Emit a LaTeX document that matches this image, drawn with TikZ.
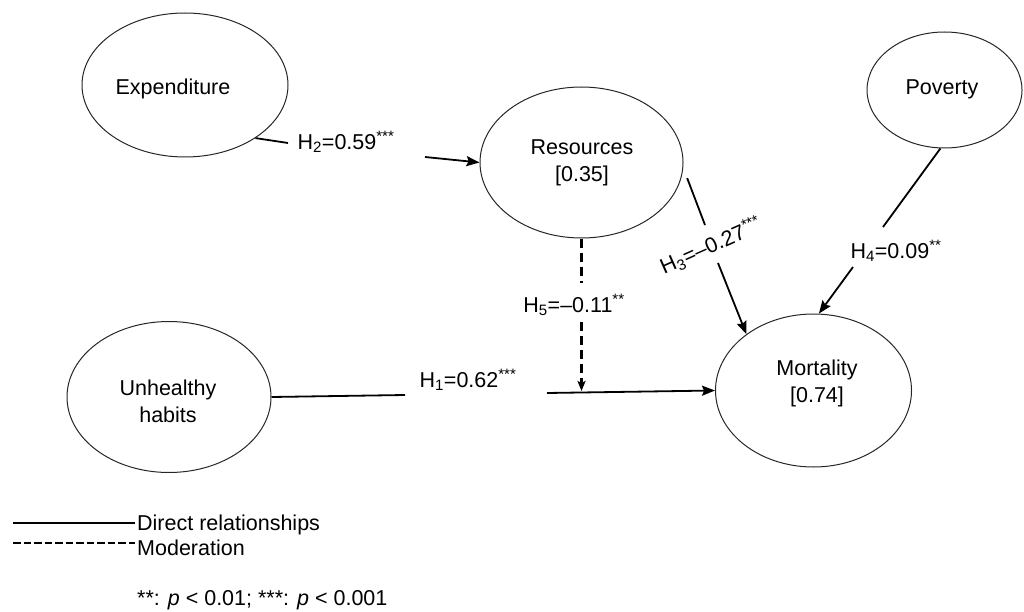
\documentclass[tikz,border=0pt]{standalone}
\usepackage{fontspec}
\setmainfont{Liberation Sans}
\usetikzlibrary{shapes.geometric,arrows.meta}
\begin{document}
\begin{tikzpicture}[x=1pt,y=-1pt,
  ell/.style={ellipse,draw=black!85,line width=1pt,inner sep=0pt},
  txt/.style={font=\fontsize{21.5}{27}\selectfont,align=center,inner sep=0pt},
  conn/.style={line width=1.8pt},
  arr/.style={conn,-{Stealth[length=13pt,width=10pt,inset=2pt]}},
  mod/.style={line width=2.2pt,dash pattern=on 9pt off 5pt},
  modarr/.style={mod,-{Stealth[length=10pt,width=8pt,inset=2pt]}}
]
\useasboundingbox (0,0) rectangle (1024,612);

% constructs
\node[ell,minimum width=206pt,minimum height=144pt] (exp) at (185,85) {};
\node[txt] (expT) at (173,89) {Expenditure};
\node[ell,minimum width=203pt,minimum height=151pt] (res) at (581.5,162.5) {};
\node[txt] (resT) at (582,163) {Resources\\{}[0.35]};
\node[ell,minimum width=155pt,minimum height=116pt] (pov) at (944.5,90) {};
\node[txt] (povT) at (942,89) {Poverty};
\node[ell,minimum width=204pt,minimum height=151pt] (unh) at (169,397) {};
\node[txt] (unhT) at (168,401) {Unhealthy\\habits};
\node[ell,minimum width=196pt,minimum height=153pt] (mor) at (813.5,390.5) {};
\node[txt] (morT) at (817,383) {Mortality\\{}[0.74]};

% H2
\coordinate (h2a) at (288,143);
\coordinate (h2b) at (425,157);
\draw[conn] (exp.-37) -- (h2a);
\node[txt] (h2) at (346,142) {H\textsubscript{2}=0.59\textsuperscript{***}};
\draw[arr] (h2b) -- (res.west);

% H3
\coordinate (h3a) at (705,225);
\coordinate (h3b) at (718,263);
\draw[conn,shorten <=11pt] (res.-3) -- (h3a);
\node[txt,rotate=24] (h3) at (711,246) {H\textsubscript{3}=–0.27\textsuperscript{***}};
\draw[arr] (h3b) -- (mor.140);

% H4
\coordinate (h4a) at (883,227);
\coordinate (h4b) at (853,267);
\draw[conn] (pov.-94) -- (h4a);
\node[txt] (h4) at (896,251) {H\textsubscript{4}=0.09\textsuperscript{**}};
\draw[arr] (h4b) -- (mor.86);

% H1
\coordinate (h1a) at (405,395);
\coordinate (h1b) at (547,393);
\draw[conn] (unh.east) -- (h1a);
\node[txt] (h1) at (468,380) {H\textsubscript{1}=0.62\textsuperscript{***}};
\draw[arr] (h1b) -- (mor.west);

% H5 (moderation)
\coordinate (h5a) at (581.5,283);
\coordinate (h5b) at (581.5,322);
\coordinate (h5c) at (581.5,391);
\draw[mod] (res.south) -- (h5a);
\node[txt] (h5) at (574,305) {H\textsubscript{5}=–0.11\textsuperscript{**}};
\draw[modarr] (h5b) -- (h5c);

% legend
\coordinate (l1a) at (13,523);
\coordinate (l1b) at (135,523);
\coordinate (l2a) at (13,543);
\coordinate (l2b) at (135,543);
\draw[line width=1.4pt] (l1a) -- (l1b);
\draw[line width=1.8pt,dash pattern=on 7.5pt off 3pt] (l2a) -- (l2b);
\node[txt,anchor=base west] (l1) at (137,530) {Direct relationships};
\node[txt,anchor=base west] (l2) at (137,555) {Moderation};
\node[txt,anchor=base west] (l3) at (137,605) {**: \textit{p} < 0.01; ***: \textit{p} < 0.001};
\end{tikzpicture}
\end{document}
